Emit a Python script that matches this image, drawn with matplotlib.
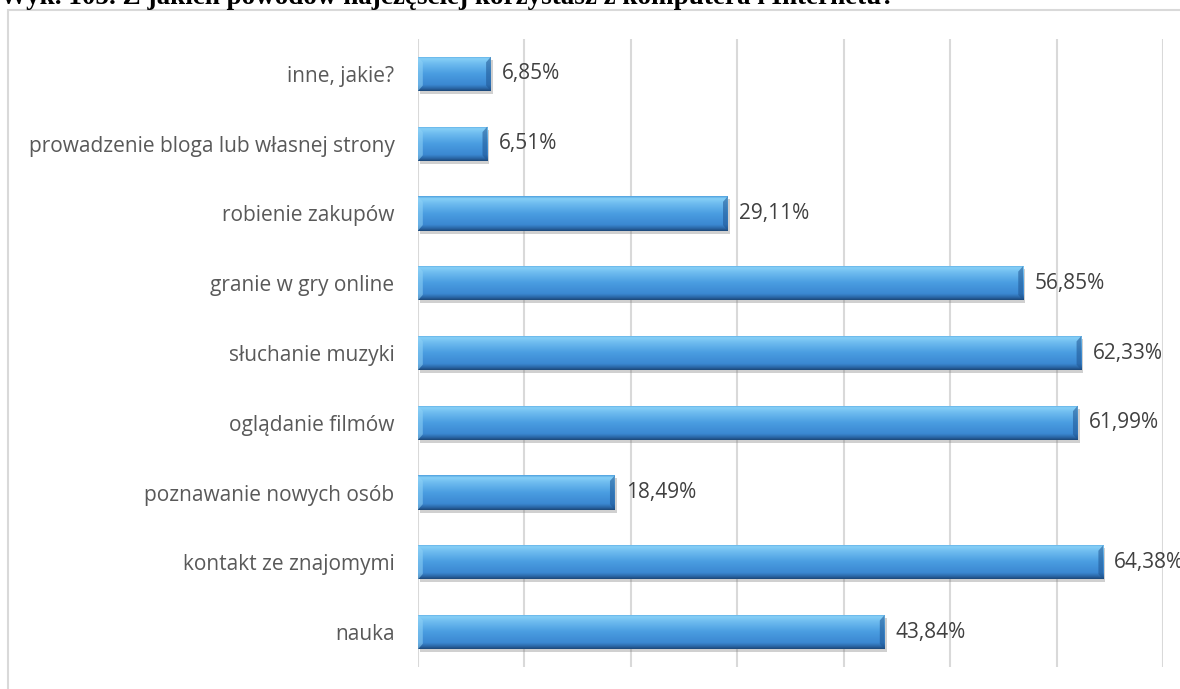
import matplotlib
matplotlib.use('Agg')
import matplotlib.pyplot as plt
import matplotlib.patches as patches
import matplotlib.transforms as mtransforms
from matplotlib.colors import LinearSegmentedColormap
import numpy as np

##################
# data (bottom to top)
##################
CATEGORIES = ["nauka",
              "kontakt ze znajomymi",
              "poznawanie nowych osób",
              "oglądanie filmów",
              "słuchanie muzyki",
              "granie w gry online",
              "robienie zakupów",
              "prowadzenie bloga lub własnej strony",
              "inne, jakie?"]
VALUES = [43.84, 64.38, 18.49, 61.99, 62.33, 56.85, 29.11, 6.51, 6.85]
VALUE_LABELS = ["43,84%", "64,38%", "18,49%", "61,99%", "62,33%",
                "56,85%", "29,11%", "6,51%", "6,85%"]
TITLE = "Wyk. 105. Z jakich powodów najczęściej korzystasz z komputera i Internetu?"

GRID_GRAY = '#d9d9d9'
LABEL_GRAY = '#595959'
VALUE_GRAY = '#404040'

# vertical gradient of the bevelled bar, top to bottom
bar_cmap = LinearSegmentedColormap.from_list('bevel', [
    (0.00, '#4e9fdd'),
    (0.07, '#86cff7'),
    (0.22, '#6dbbef'),
    (0.50, '#4a9de1'),
    (0.82, '#3b88d2'),
    (0.92, '#2b68a8'),
    (1.00, '#1c4777')])


def main():
    fig = plt.figure(figsize=(11.8, 6.89), dpi=100)

    # outer chart frame (right and bottom edges fall outside the picture)
    frame = patches.Rectangle((8 / 1180, -0.05), 1.2, 1 - 10 / 689 + 0.05,
                              transform=fig.transFigure, facecolor='none',
                              edgecolor=GRID_GRAY, linewidth=1.5, zorder=0)
    fig.patches.append(frame)

    # title sits half above the top edge, as in the source document
    fig.text(0.0, 1 - 4 / 689, TITLE, fontsize=19.5, fontweight='bold',
             family='Liberation Serif', ha='left', va='baseline', color='black')

    ax = fig.add_axes([418 / 1180, 1 - 667 / 689, (1163 - 418) / 1180, (667 - 39) / 689])
    ypos = np.arange(len(CATEGORIES))
    bar_h = 0.49

    bars = ax.barh(ypos, VALUES, height=bar_h, color='#3f8fd8', zorder=3)

    shadow_tr = mtransforms.offset_copy(ax.transData, fig=fig, x=2, y=-3, units='dots')
    grad = np.linspace(0, 1, 256).reshape(-1, 1)
    for bar in bars:
        x0, y0 = bar.get_x(), bar.get_y()
        w, h = bar.get_width(), bar.get_height()
        shadow = patches.Rectangle((x0, y0), w, h, transform=shadow_tr,
                                   facecolor='#7a7a7a', alpha=0.35, zorder=2, linewidth=0)
        ax.add_patch(shadow)
        im = ax.imshow(grad, cmap=bar_cmap, extent=[x0, x0 + w, y0, y0 + h],
                       aspect='auto', origin='upper', zorder=4, interpolation='bilinear')
        im.set_clip_path(bar)
        # bevel on the ends
        bx = 0.45
        by = h * 0.16
        ax.add_patch(patches.Polygon([(x0, y0), (x0, y0 + h), (x0 + bx, y0 + h - by), (x0 + bx, y0 + by)],
                                     closed=True, facecolor='#8fd2f6', alpha=0.55, linewidth=0, zorder=5))
        ax.add_patch(patches.Polygon([(x0 + w, y0), (x0 + w, y0 + h), (x0 + w - bx, y0 + h - by), (x0 + w - bx, y0 + by)],
                                     closed=True, facecolor='#1f5592', alpha=0.55, linewidth=0, zorder=5))

    for y, v, lab in zip(ypos, VALUES, VALUE_LABELS):
        ax.annotate(lab, (v, y), xytext=(8, 0), textcoords='offset points',
                    ha='left', va='center', fontsize=15, color=VALUE_GRAY,
                    family='Open Sans', zorder=6, annotation_clip=False)

    ax.set_xlim(0, 70)
    ax.set_ylim(-0.5, len(CATEGORIES) - 0.5)
    ax.set_xticks(np.arange(0, 71, 10))
    ax.set_xticklabels([])
    ax.tick_params(axis='x', length=0)
    ax.set_yticks(ypos)
    ax.set_yticklabels(CATEGORIES, fontsize=15, color=LABEL_GRAY, family='Open Sans')
    ax.tick_params(axis='y', length=0, pad=17)
    ax.grid(axis='x', color=GRID_GRAY, linewidth=1.5, zorder=0)
    ax.set_axisbelow(True)
    for side in ['top', 'right', 'bottom', 'left']:
        ax.spines[side].set_visible(False)
    ax.patch.set_alpha(0)

    fig.savefig('out.png', dpi=100)


if __name__ == '__main__':
    main()
